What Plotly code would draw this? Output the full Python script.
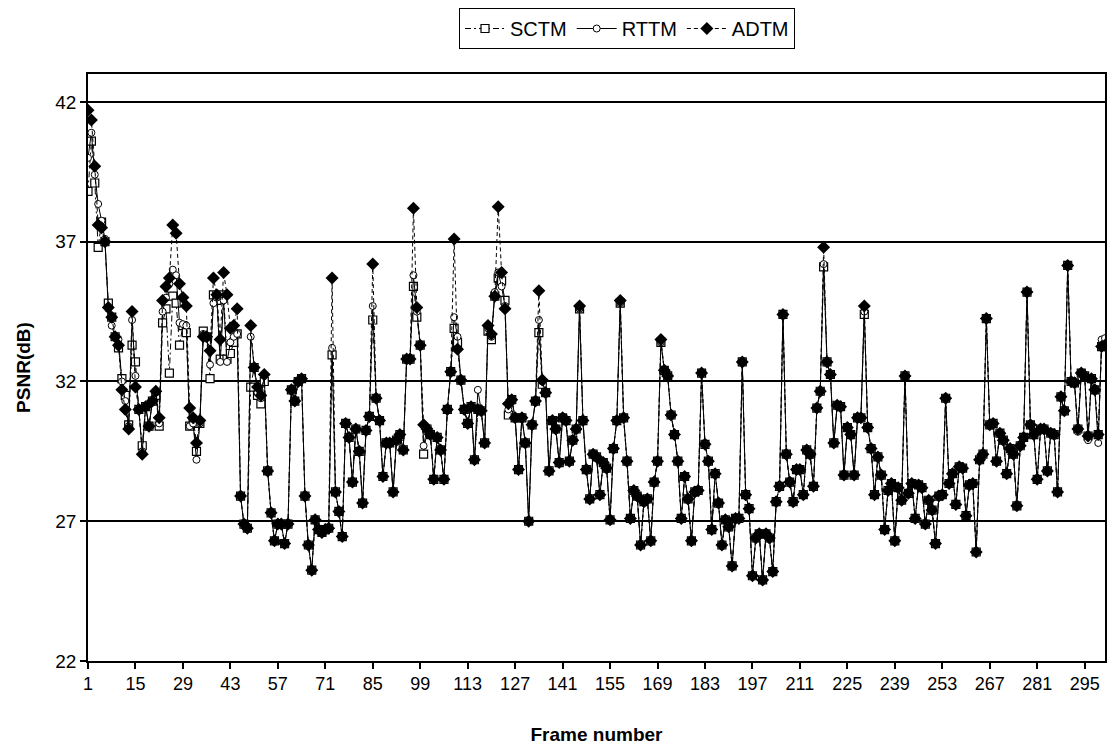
import plotly.graph_objects as go

frames = list(range(1, 302))

adtm = [
    41.7, 41.35, 39.7, 37.6, 37.5, 37.0, 34.65, 34.3, 33.6, 33.3,
    31.7, 31.0, 30.3, 34.5, 31.8, 31.0, 29.4, 31.1, 30.4, 31.3,
    31.65, 30.7, 34.9, 35.4, 35.7, 37.6, 37.3, 35.5, 35.0, 34.7,
    31.05, 30.7, 29.8, 30.6, 33.6, 33.6, 33.1, 35.7, 35.1, 33.5,
    35.9, 35.1, 33.9, 34.0, 34.6, 27.9, 26.9, 26.75, 34.0, 32.5,
    31.8, 31.5, 32.25, 28.8, 27.3, 26.3, 26.9, 26.9, 26.2, 26.9,
    31.7, 31.3, 32.0, 32.1, 27.9, 26.15, 25.25, 27.05, 26.7, 26.6,
    26.7, 26.75, 35.7, 28.05, 27.35, 26.45, 30.5, 30.0, 28.4, 30.3,
    29.5, 27.65, 30.25, 30.75, 36.2, 31.4, 30.6, 28.6, 29.8, 29.8,
    28.05, 29.9, 30.1, 29.55, 32.8, 32.8, 38.2, 34.65, 33.3, 30.45,
    30.3, 30.1, 28.5, 30.0, 29.55, 28.5, 31.0, 32.35, 37.1, 33.15,
    32.05, 31.0, 30.5, 31.1, 29.2, 31.0, 30.95, 29.8, 34.0, 33.7,
    35.05, 38.25, 35.9, 34.6, 31.2, 31.35, 30.7, 28.85, 30.7, 29.8,
    27.0, 30.45, 31.3, 35.25, 32.05, 31.6, 28.8, 30.6, 30.3, 29.1,
    30.7, 30.6, 29.15, 29.9, 30.3, 34.7, 30.6, 28.85, 27.8, 29.4,
    29.3, 27.95, 29.1, 28.9, 27.05, 29.6, 30.6, 34.9, 30.7, 29.15,
    27.1, 28.1, 27.9, 26.15, 27.7, 27.8, 26.3, 28.4, 29.15, 33.5,
    32.4, 32.2, 30.8, 30.1, 29.15, 27.1, 28.6, 27.8, 26.3, 28.05,
    28.1, 32.3, 29.75, 29.15, 26.7, 28.7, 27.65, 26.15, 27.05, 26.8,
    25.4, 27.1, 27.1, 32.7, 27.95, 27.45, 25.05, 26.4, 26.55, 24.9,
    26.55, 26.4, 25.2, 27.7, 28.25, 34.4, 29.4, 28.4, 27.7, 28.85,
    28.85, 27.95, 29.55, 29.4, 28.25, 31.05, 31.65, 36.8, 32.7, 32.25,
    29.8, 31.15, 31.1, 28.65, 30.35, 30.1, 28.65, 30.7, 30.7, 34.7,
    30.35, 29.6, 27.95, 29.3, 28.65, 26.7, 28.1, 28.35, 26.3, 28.2,
    27.75, 32.2, 28.0, 28.35, 27.1, 28.3, 28.2, 26.9, 27.75, 27.4,
    26.2, 27.9, 27.95, 31.4, 28.35, 28.7, 27.6, 28.95, 28.9, 27.2,
    28.3, 28.35, 25.9, 29.2, 29.4, 34.25, 30.45, 30.5, 29.15, 30.15,
    29.9, 28.7, 29.6, 29.4, 27.55, 29.7, 30.0, 35.2, 30.45, 30.1,
    28.5, 30.3, 30.3, 28.8, 30.15, 30.1, 28.05, 31.45, 30.95, 36.15,
    32.0, 31.95, 30.3, 32.3, 32.2, 30.05, 32.1, 31.7, 30.1, 33.25,
    33.3,
]

sctm = [
    38.8, 40.6, 39.1, 36.8, 37.7, 37.0, 34.8, 34.3, 33.6, 33.2,
    32.1, 31.5, 30.45, 33.3, 32.7, 31.0, 29.7, 31.1, 30.4, 31.3,
    31.5, 30.4, 34.1, 34.6, 32.3, 35.05, 34.8, 33.3, 34.0, 33.75,
    30.4, 30.5, 29.5, 30.5, 33.8, 33.6, 32.1, 35.1, 34.9, 32.8,
    35.1, 32.8, 33.0, 33.4, 33.7, 27.9, 26.9, 26.75, 31.8, 32.5,
    31.5, 31.2, 32.0, 28.8, 27.3, 26.3, 26.9, 26.9, 26.2, 26.9,
    31.7, 31.3, 32.0, 32.1, 27.9, 26.15, 25.25, 27.05, 26.7, 26.6,
    26.7, 26.75, 32.95, 28.05, 27.35, 26.45, 30.5, 30.0, 28.4, 30.3,
    29.5, 27.65, 30.25, 30.75, 34.2, 31.4, 30.6, 28.6, 29.8, 29.8,
    28.05, 29.9, 30.1, 29.55, 32.8, 32.8, 35.4, 34.3, 33.3, 29.4,
    30.3, 30.1, 28.5, 30.0, 29.55, 28.5, 31.0, 32.35, 33.9, 33.4,
    32.05, 31.0, 30.5, 31.1, 29.2, 31.0, 30.95, 29.8, 33.8, 33.5,
    35.05, 35.7, 35.6, 34.9, 30.8, 31.35, 30.7, 28.85, 30.7, 29.8,
    27.0, 30.45, 31.3, 33.75, 31.9, 31.6, 28.8, 30.6, 30.3, 29.1,
    30.7, 30.6, 29.15, 29.9, 30.3, 34.6, 30.6, 28.85, 27.8, 29.4,
    29.3, 27.95, 29.1, 28.9, 27.05, 29.6, 30.6, 34.8, 30.7, 29.15,
    27.1, 28.1, 27.9, 26.15, 27.7, 27.8, 26.3, 28.4, 29.15, 33.4,
    32.4, 32.2, 30.8, 30.1, 29.15, 27.1, 28.6, 27.8, 26.3, 28.05,
    28.1, 32.3, 29.75, 29.15, 26.7, 28.7, 27.65, 26.15, 27.05, 26.8,
    25.4, 27.1, 27.1, 32.7, 27.95, 27.45, 25.05, 26.4, 26.55, 24.9,
    26.55, 26.4, 25.2, 27.7, 28.25, 34.4, 29.4, 28.4, 27.7, 28.85,
    28.85, 27.95, 29.55, 29.4, 28.25, 31.05, 31.65, 36.1, 32.7, 32.25,
    29.8, 31.15, 31.1, 28.65, 30.35, 30.1, 28.65, 30.7, 30.7, 34.4,
    30.35, 29.6, 27.95, 29.3, 28.65, 26.7, 28.1, 28.35, 26.3, 28.2,
    27.75, 32.2, 28.0, 28.35, 27.1, 28.3, 28.2, 26.9, 27.75, 27.4,
    26.2, 27.9, 27.95, 31.4, 28.35, 28.7, 27.6, 28.95, 28.9, 27.2,
    28.3, 28.35, 25.9, 29.2, 29.4, 34.25, 30.45, 30.5, 29.15, 30.15,
    29.9, 28.7, 29.6, 29.4, 27.55, 29.7, 30.0, 35.2, 30.45, 30.1,
    28.5, 30.3, 30.3, 28.8, 30.15, 30.1, 28.05, 31.45, 30.95, 36.15,
    32.0, 31.95, 30.3, 32.3, 32.2, 30.05, 32.1, 31.7, 30.1, 33.25,
    33.3,
]

rttm = [
    40.0, 40.9, 39.4, 38.35, 37.75, 37.1, 34.6, 34.0, 33.6, 33.5,
    32.0, 31.3, 30.4, 34.2, 32.2, 31.0, 29.5, 31.1, 30.4, 31.3,
    31.6, 30.5, 34.5, 35.0, 35.5, 36.0, 35.8, 34.1, 34.05, 34.0,
    30.4, 30.5, 29.2, 30.5, 33.7, 33.6, 32.6, 34.8, 35.0, 32.7,
    34.9, 32.7, 33.4, 33.6, 33.7, 27.9, 26.9, 26.75, 33.6, 32.5,
    31.6, 31.4, 32.2, 28.8, 27.3, 26.3, 26.9, 26.9, 26.2, 26.9,
    31.7, 31.3, 32.0, 32.1, 27.9, 26.15, 25.25, 27.05, 26.7, 26.6,
    26.7, 26.75, 33.2, 28.05, 27.35, 26.45, 30.5, 30.0, 28.4, 30.3,
    29.5, 27.65, 30.25, 30.75, 34.7, 31.4, 30.6, 28.6, 29.8, 29.8,
    28.05, 29.9, 30.1, 29.55, 32.8, 32.8, 35.8, 34.5, 33.3, 29.7,
    30.3, 30.1, 28.5, 30.0, 29.55, 28.5, 31.0, 32.35, 34.3, 33.6,
    32.05, 31.0, 30.5, 31.1, 29.2, 31.7, 30.95, 29.8, 33.9, 33.6,
    35.2, 35.9, 35.4, 34.7, 31.0, 31.35, 30.7, 28.85, 30.7, 29.8,
    27.0, 30.45, 31.3, 34.2, 32.0, 31.6, 28.8, 30.6, 30.3, 29.1,
    30.7, 30.6, 29.15, 29.9, 30.3, 34.6, 30.6, 28.85, 27.8, 29.4,
    29.3, 27.95, 29.1, 28.9, 27.05, 29.6, 30.6, 34.8, 30.7, 29.15,
    27.1, 28.1, 27.9, 26.15, 27.7, 27.8, 26.3, 28.4, 29.15, 33.4,
    32.4, 32.2, 30.8, 30.1, 29.15, 27.1, 28.6, 27.8, 26.3, 28.05,
    28.1, 32.3, 29.75, 29.15, 26.7, 28.7, 27.65, 26.15, 27.05, 26.8,
    25.4, 27.1, 27.1, 32.7, 27.95, 27.45, 25.05, 26.4, 26.55, 24.9,
    26.55, 26.4, 25.2, 27.7, 28.25, 34.4, 29.4, 28.4, 27.7, 28.85,
    28.85, 27.95, 29.55, 29.4, 28.25, 31.05, 31.65, 36.2, 32.7, 32.25,
    29.8, 31.15, 31.1, 28.65, 30.35, 30.1, 28.65, 30.7, 30.7, 34.5,
    30.35, 29.6, 27.95, 29.3, 28.65, 26.7, 28.1, 28.35, 26.3, 28.2,
    27.75, 32.2, 28.0, 28.35, 27.1, 28.3, 28.2, 26.9, 27.75, 27.4,
    26.2, 27.9, 27.95, 31.4, 28.35, 28.7, 27.6, 28.95, 28.9, 27.2,
    28.3, 28.35, 25.9, 29.2, 29.4, 34.25, 30.45, 30.5, 29.15, 30.15,
    29.9, 28.7, 29.6, 29.4, 27.55, 29.7, 30.0, 35.2, 30.45, 30.1,
    28.5, 30.3, 30.3, 28.8, 30.15, 30.1, 28.05, 31.45, 30.95, 36.15,
    32.0, 31.95, 30.2, 32.3, 32.2, 29.9, 32.1, 31.7, 29.8, 33.5,
    33.55,
]

x_tick_vals = [1, 15, 29, 43, 57, 71, 85, 99, 113, 127, 141, 155, 169, 183,
               197, 211, 225, 239, 253, 267, 281, 295]
x_tick_text = ["1", "15", "29", "43", "57", "71", "85", "99", "113", "127",
               "141", "155", "169", "183", "197", "211", "225", "239", "253",
               "267", "281", "295"]
y_tick_vals = [22, 27, 32, 37, 42]

FONT = "Liberation Sans, Arial, sans-serif"

fig = go.Figure()
fig.add_trace(go.Scatter(
    x=frames, y=sctm, name="SCTM", mode="lines+markers",
    line=dict(color="black", width=1, dash="6px,3px,2px,3px"),
    marker=dict(symbol="square", size=8, color="white",
                line=dict(color="black", width=1.2)),
))
fig.add_trace(go.Scatter(
    x=frames, y=rttm, name="RTTM", mode="lines+markers",
    line=dict(color="black", width=1),
    marker=dict(symbol="circle", size=7, color="white",
                line=dict(color="black", width=1)),
))
fig.add_trace(go.Scatter(
    x=frames, y=adtm, name="ADTM", mode="lines+markers",
    line=dict(color="black", width=1, dash="4px,3px"),
    marker=dict(symbol="diamond", size=10, color="black",
                line=dict(color="black", width=0)),
))

fig.update_layout(
    width=1100, height=737,
    margin=dict(l=80, r=1, t=66, b=84),
    paper_bgcolor="white", plot_bgcolor="white",
    showlegend=True,
    legend=dict(
        orientation="h", x=0.53, xanchor="center",
        yref="container", y=1.0, yanchor="top",
        bordercolor="black", borderwidth=1,
        font=dict(family=FONT, size=20, color="black"),
        itemwidth=40, tracegroupgap=0,
    ),
    xaxis=dict(
        range=[1, 301], tickmode="array", tickvals=x_tick_vals,
        ticktext=x_tick_text, ticks="outside", ticklen=6, tickwidth=1.5,
        tickcolor="black", showline=True, linecolor="black", linewidth=1.5,
        mirror=True, showgrid=False, zeroline=False,
        tickfont=dict(family=FONT, size=18, color="black"),
        title=dict(text="<b>Frame number</b>", standoff=34,
                   font=dict(family=FONT, size=19, color="black")),
    ),
    yaxis=dict(
        range=[22, 43], tickmode="array", tickvals=y_tick_vals,
        ticks="outside", ticklen=6, tickwidth=1.5, tickcolor="black",
        showline=True, linecolor="black", linewidth=1.5, mirror=True,
        showgrid=True, gridcolor="black", gridwidth=1.8, zeroline=False,
        tickfont=dict(family=FONT, size=19, color="black"),
        title=dict(text="<b>PSNR(dB)</b>", standoff=20,
                   font=dict(family=FONT, size=19, color="black")),
    ),
)

fig.write_html("out.html", config={"displayModeBar": False})
